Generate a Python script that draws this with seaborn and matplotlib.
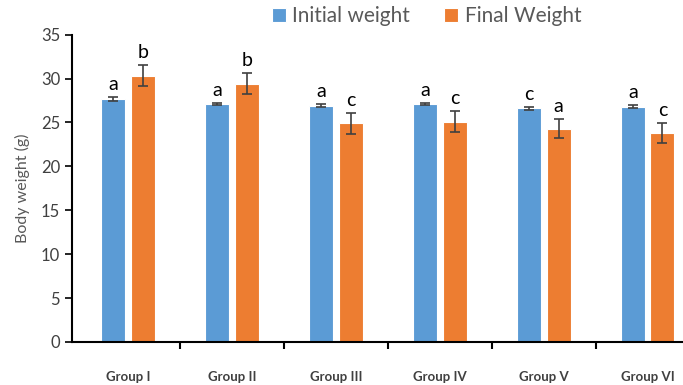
import matplotlib
matplotlib.use("Agg")
import matplotlib.pyplot as plt
import seaborn as sns
import pandas as pd
import numpy as np

groups = ["Group I", "Group II", "Group III", "Group IV", "Group V", "Group VI"]
initial_weight = [27.7, 27.1, 26.9, 27.1, 26.6, 26.8]
initial_err = [0.2, 0.15, 0.15, 0.12, 0.15, 0.15]
final_weight = [30.3, 29.4, 24.9, 25.1, 24.3, 23.8]
final_err = [1.2, 1.2, 1.2, 1.2, 1.1, 1.1]
initial_letters = ["a", "a", "a", "a", "c", "a"]
final_letters = ["b", "b", "c", "c", "a", "c"]
series_names = ["Initial weight", "Final Weight"]
yticks = [0, 5, 10, 15, 20, 25, 30, 35]

sns.set_theme(style="white")
plt.rcParams['font.family'] = ['Lato', 'DejaVu Sans']

df = pd.DataFrame({
    "group": groups * 2,
    "series": [series_names[0]] * len(groups) + [series_names[1]] * len(groups),
    "value": initial_weight + final_weight,
})

fig = plt.figure(figsize=(6.83, 3.85), dpi=100)
ax = fig.add_axes([0.1054, 0.1117, 0.8946, 0.7983])

palette = {series_names[0]: "#5B9BD5", series_names[1]: "#ED7D31"}
sns.barplot(data=df, x="group", y="value", hue="series", palette=palette,
            width=0.57, gap=0.19, errorbar=None, ax=ax, saturation=1,
            edgecolor="white", linewidth=0.8)

n = len(groups)
bars = ax.patches[:2 * n]
errs = initial_err + final_err
vals = initial_weight + final_weight
letters = initial_letters + final_letters
for i, b in enumerate(bars):
    cx = b.get_x() + b.get_width() / 2
    ax.errorbar(cx, vals[i], yerr=errs[i], color="#404040", capsize=3.5,
                elinewidth=1.2, capthick=1.2, fmt="none")
    ax.annotate(letters[i], (cx, vals[i] + errs[i]), xytext=(0, 3),
                textcoords="offset points", ha="center", va="bottom",
                fontsize=14, color="black")

ax.set_ylim(0, 35)
ax.set_yticks(yticks)
ax.set_xlim(-0.54, 5.34)
ax.set_xlabel("")
ax.set_ylabel("Body weight (g)", fontsize=11.5, color="#595959", labelpad=8)
for s in ["top", "right"]:
    ax.spines[s].set_visible(False)
for s in ["left", "bottom"]:
    ax.spines[s].set_color("black")
    ax.spines[s].set_linewidth(1.5)

ax.tick_params(axis="y", which="major", direction="out", length=5, width=1.2,
               color="black", labelsize=12, labelcolor="#404040", left=True)
ax.set_xticks(range(n))
ax.set_xticklabels(groups, fontsize=9.5, fontweight="bold", color="#404040")
ax.tick_params(axis="x", which="major", length=0, pad=21)
ax.set_xticks(np.arange(0.5, n - 0.5, 1), minor=True)
ax.tick_params(axis="x", which="minor", direction="out", length=5, width=1.5,
               color="black", bottom=True)

leg = ax.legend(loc="center", bbox_to_anchor=(0.58, 1.06), ncol=2, frameon=False,
                fontsize=15, handlelength=0.7, handleheight=0.7,
                handletextpad=0.3, columnspacing=1.6, labelcolor="#595959")

fig.savefig("out.png", dpi=100)
